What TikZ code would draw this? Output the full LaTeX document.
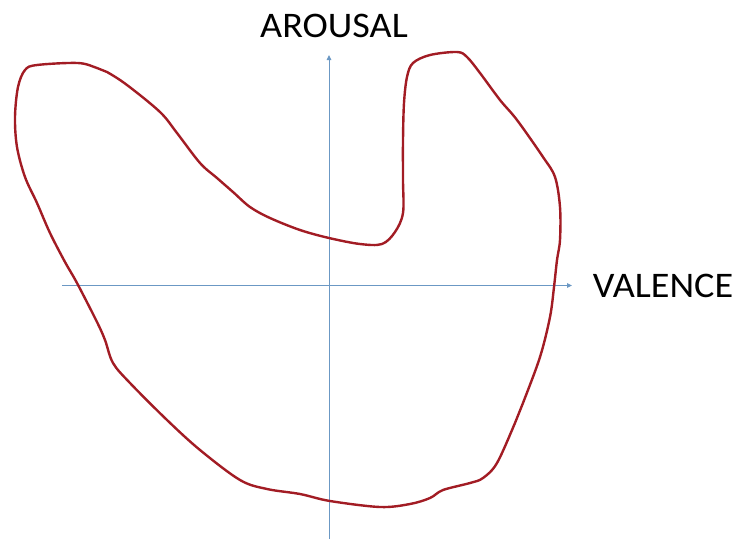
\documentclass[tikz,border=0pt]{standalone}
\usepackage{fontspec}
\setmainfont{Carlito}
\usetikzlibrary{arrows.meta}
\definecolor{curvered}{HTML}{A21C24}
\definecolor{axisblue}{HTML}{6B98C4}
\begin{document}
\begin{tikzpicture}[x=1pt,y=-1pt,
  axis/.style={draw=axisblue,line width=1pt,-{Triangle[length=5pt,width=4.5pt]}},
  region/.style={draw=curvered,line width=2.4pt,line join=round},
  lbl/.style={font=\fontsize{36}{42}\selectfont,text=black,inner sep=0pt,anchor=base,xscale=1.06,transform shape}]
\useasboundingbox (0,0) rectangle (737,539);
\coordinate (vb) at (329,539);
\coordinate (vt) at (329,55);
\coordinate (hl) at (62,285.5);
\coordinate (hr) at (572,285.5);
\draw[axis] (vb) -- (vt);
\draw[axis] (hl) -- (hr);
\node[lbl] (arousal) at (334,37.5) {AROUSAL};
\node[lbl] (valence) at (663,297.5) {VALENCE};
\draw[region] plot[smooth cycle, tension=0.55] coordinates {
(37,65) (78,63) (97,68) (107,72) (127,85) (160,112) (177,133) (200,163) (217,178) (233,192) (250,207) (270,218) (300,230) (329,238) (360,244) (382,244) (395,232) (403,213) (403,180) (403,140) (404,103) (407,77) (413,63) (430,55) (457,52) (467,57) (480,73) (500,100) (517,120) (543,157) (555,177) (560,207) (560,240) (557,260) (554,287) (550,317) (540,357) (523,403) (515,423) (497,463) (483,478) (470,483) (443,490) (430,498) (410,504) (380,507) (330,501) (300,494) (267,489) (240,480) (200,450) (167,420) (130,383) (113,363) (105,340) (97,322) (77,283) (65,262) (50,233) (37,203) (25,177) (17,147) (15,117) (18,87) (25,70)};
\end{tikzpicture}
\end{document}
